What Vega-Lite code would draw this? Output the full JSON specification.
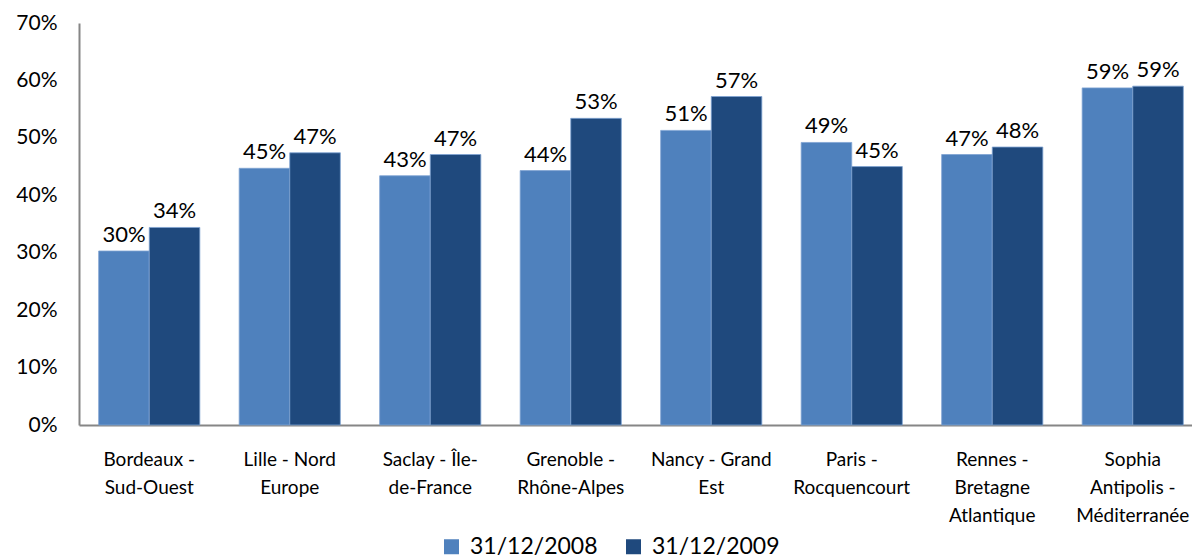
{
  "$schema": "https://vega.github.io/schema/vega-lite/v6.json",
  "autosize": {"type": "none"},
  "width": 1113,
  "height": 402,
  "padding": {"left": 79, "top": 23, "right": 0, "bottom": 135},
  "config": {
    "view": {"stroke": null},
    "font": "Lato",
    "axis": {"grid": false, "ticks": false, "domainColor": "#868686", "domainWidth": 2, "labelColor": "#000000", "labelFont": "Lato"}
  },
  "data": {
    "values": [
      {"site": "Bordeaux - Sud-Ouest", "date": "31/12/2008", "share": 0.303},
      {"site": "Bordeaux - Sud-Ouest", "date": "31/12/2009", "share": 0.344},
      {"site": "Lille - Nord Europe", "date": "31/12/2008", "share": 0.447},
      {"site": "Lille - Nord Europe", "date": "31/12/2009", "share": 0.474},
      {"site": "Saclay - Île-de-France", "date": "31/12/2008", "share": 0.434},
      {"site": "Saclay - Île-de-France", "date": "31/12/2009", "share": 0.471},
      {"site": "Grenoble - Rhône-Alpes", "date": "31/12/2008", "share": 0.443},
      {"site": "Grenoble - Rhône-Alpes", "date": "31/12/2009", "share": 0.534},
      {"site": "Nancy - Grand Est", "date": "31/12/2008", "share": 0.513},
      {"site": "Nancy - Grand Est", "date": "31/12/2009", "share": 0.572},
      {"site": "Paris - Rocquencourt", "date": "31/12/2008", "share": 0.492},
      {"site": "Paris - Rocquencourt", "date": "31/12/2009", "share": 0.450},
      {"site": "Rennes - Bretagne Atlantique", "date": "31/12/2008", "share": 0.471},
      {"site": "Rennes - Bretagne Atlantique", "date": "31/12/2009", "share": 0.484},
      {"site": "Sophia Antipolis - Méditerranée", "date": "31/12/2008", "share": 0.587},
      {"site": "Sophia Antipolis - Méditerranée", "date": "31/12/2009", "share": 0.590}
    ]
  },
  "encoding": {
    "x": {
      "field": "site",
      "type": "nominal",
      "sort": null,
      "scale": {"range": [0, 1124], "paddingInner": 0.28, "paddingOuter": 0.14},
      "axis": {
        "title": null,
        "labelAngle": 0,
        "labelFontSize": 19,
        "labelPadding": 25,
        "labelLineHeight": 28,
        "labelLimit": 300,
        "labelExpr": "{'Bordeaux - Sud-Ouest': ['Bordeaux -', 'Sud-Ouest'], 'Lille - Nord Europe': ['Lille - Nord', 'Europe'], 'Saclay - Île-de-France': ['Saclay - Île-', 'de-France'], 'Grenoble - Rhône-Alpes': ['Grenoble -', 'Rhône-Alpes'], 'Nancy - Grand Est': ['Nancy - Grand', 'Est'], 'Paris - Rocquencourt': ['Paris -', 'Rocquencourt'], 'Rennes - Bretagne Atlantique': ['Rennes -', 'Bretagne', 'Atlantique'], 'Sophia Antipolis - Méditerranée': ['Sophia', 'Antipolis -', 'Méditerranée']}[datum.label]"
      }
    },
    "xOffset": {"field": "date", "type": "nominal"},
    "y": {
      "field": "share",
      "type": "quantitative",
      "scale": {"domain": [0, 0.7], "nice": false},
      "axis": {
        "title": null,
        "format": ".0%",
        "values": [0, 0.1, 0.2, 0.3, 0.4, 0.5, 0.6, 0.7],
        "labelFontSize": 21,
        "labelPadding": 22
      }
    }
  },
  "layer": [
    {
      "mark": {"type": "bar", "stroke": "#7fa3d3", "strokeWidth": 0.8},
      "encoding": {
        "color": {
          "field": "date",
          "type": "nominal",
          "scale": {"domain": ["31/12/2008", "31/12/2009"], "range": ["#4F81BD", "#1F497D"]},
          "legend": {
            "title": null,
            "orient": "none",
            "direction": "horizontal",
            "legendX": 361,
            "legendY": 512,
            "symbolType": "square",
            "symbolSize": 225,
            "symbolStrokeWidth": 0,
            "labelFontSize": 23,
            "labelColor": "#000000",
            "labelOffset": 7,
            "columnPadding": 24
          }
        }
      }
    },
    {
      "mark": {"type": "text", "baseline": "alphabetic", "dy": -9, "fontSize": 22, "color": "#000000"},
      "encoding": {"text": {"field": "share", "format": ".0%"}}
    }
  ]
}
